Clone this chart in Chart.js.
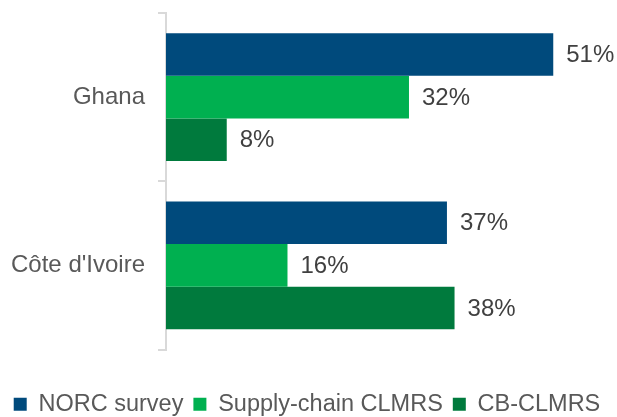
<!DOCTYPE html>
<html>
<head>
<meta charset="utf-8">
<script src="https://cdn.jsdelivr.net/npm/chart.js@4"></script>
<style>
  html, body { margin: 0; padding: 0; background: #fff; overflow: hidden; }
  #wrap { width: 617px; height: 417px; }
</style>
</head>
<body>
<div id="wrap"><canvas id="myBarChart"></canvas></div>
<script>
const categories = ['Ghana', "Côte d'Ivoire"];
const seriesNames = ['NORC survey', 'Supply-chain CLMRS', 'CB-CLMRS'];
const norcSurvey = [51, 37];
const supplyChain = [32, 16];
const cbClmrs = [8, 38];
const colors = ['#004a7c', '#00b050', '#007a3d'];

const fontFamily = '"Liberation Sans", Arial, sans-serif';

// draw the percentage at the end of each bar
const valueLabels = {
    id: 'valueLabels',
    afterDatasetsDraw: (chart) => {
        const ctx = chart.ctx;
        ctx.save();
        ctx.font = '24px ' + fontFamily;
        ctx.fillStyle = '#404040';
        ctx.textAlign = 'left';
        ctx.textBaseline = 'middle';
        chart.data.datasets.forEach((ds, i) => {
            chart.getDatasetMeta(i).data.forEach((bar, j) => {
                ctx.fillText(ds.data[j] + '%', bar.x + 13, bar.y + 1);
            });
        });
        ctx.restore();
    }
};

const ctx = document.getElementById('myBarChart').getContext('2d');
new Chart(ctx, {
    type: 'bar',
    data: {
        labels: categories,
        datasets: [norcSurvey, supplyChain, cbClmrs].map((d, i) => ({
            label: seriesNames[i],
            data: d,
            backgroundColor: colors[i],
            barPercentage: 1.0,
            categoryPercentage: 0.76
        }))
    },
    options: {
        indexAxis: 'y',
        responsive: true,
        maintainAspectRatio: false,
        animation: false,
        layout: { padding: { top: 13, right: 3, left: 0, bottom: -9 } },
        scales: {
            x: {
                min: 0,
                max: 59,
                grid: { display: false },
                border: { display: false },
                ticks: { display: false },
                afterFit: (scale) => { scale.height = 33; }
            },
            y: {
                grid: {
                    offset: true,
                    drawOnChartArea: false,
                    tickLength: 8,
                    color: '#d9d9d9',
                    lineWidth: 2
                },
                border: { color: '#d9d9d9', width: 2 },
                ticks: {
                    padding: 13,
                    color: '#595959',
                    font: { family: fontFamily, size: 24 }
                },
                afterFit: (scale) => {
                    scale.width = 166;
                    scale.paddingTop = 0;
                    scale.paddingBottom = 0;
                }
            }
        },
        plugins: {
            legend: {
                position: 'bottom',
                labels: {
                    boxWidth: 13,
                    boxHeight: 13,
                    padding: 10,
                    color: '#595959',
                    font: { family: fontFamily, size: 23.5 }
                }
            },
            tooltip: { enabled: false }
        }
    },
    plugins: [valueLabels]
});
</script>
</body>
</html>
